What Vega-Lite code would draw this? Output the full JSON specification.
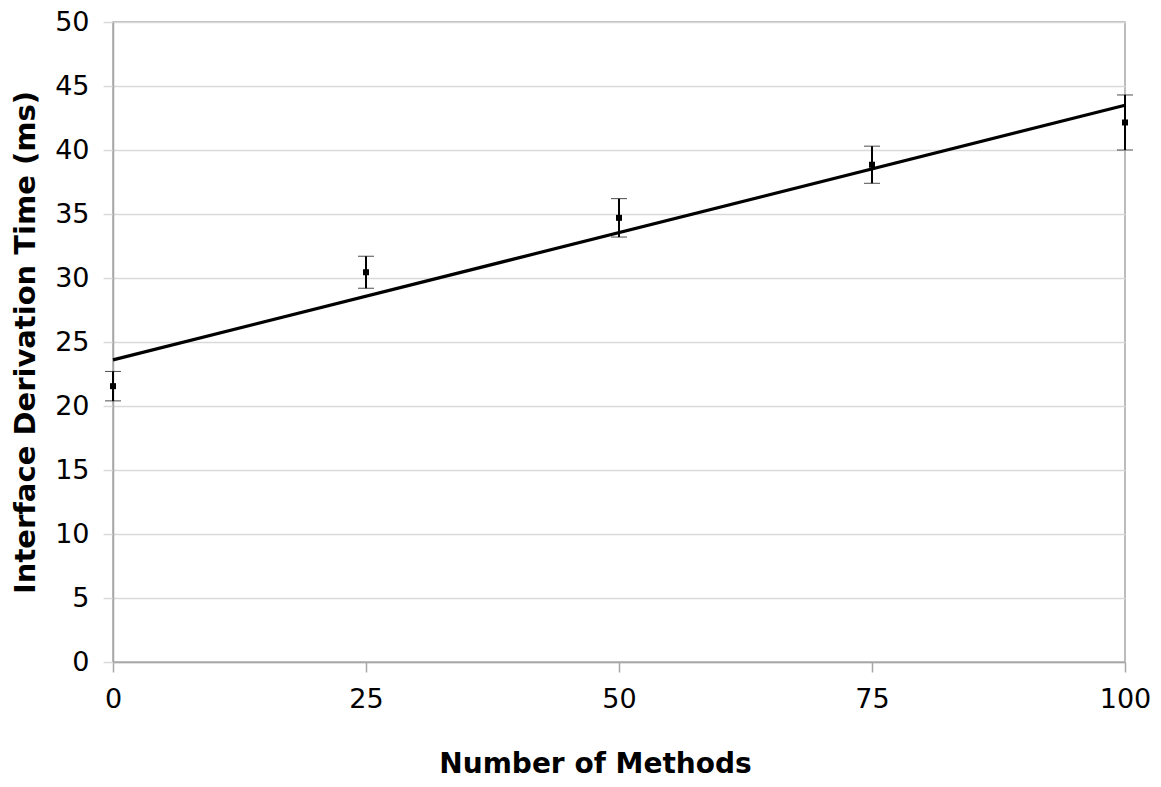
{
  "$schema": "https://vega.github.io/schema/vega-lite/v6.json",
  "width": 1012,
  "height": 640,
  "autosize": {"type": "none"},
  "padding": {"left": 113, "top": 22, "right": 35, "bottom": 125},
  "background": "white",
  "config": {
    "font": "DejaVu Sans",
    "view": {"stroke": "#a6a6a6", "strokeWidth": 1.5},
    "axis": {
      "titleFont": "DejaVu Sans", "titleFontSize": 28, "titleFontWeight": "bold",
      "titleColor": "black",
      "labelFontSize": 27, "labelColor": "black", "labelFont": "DejaVu Sans",
      "labelFlush": false, "labelOverlap": false,
      "domainColor": "#a6a6a6", "domainWidth": 1.5,
      "tickSize": 10, "tickWidth": 1.5
    },
    "axisX": {
      "grid": false, "tickColor": "#a6a6a6", "labelPadding": 14, "titlePadding": 38,
      "titleX": 482
    },
    "axisY": {
      "grid": true, "gridColor": "#d9d9d9", "gridWidth": 1.5,
      "tickColor": "#d9d9d9", "labelPadding": 14, "titlePadding": 14,
      "titleFontSize": 29
    }
  },
  "datasets": {
    "points": [
      {"methods": 0, "time": 21.55, "lo": 20.4, "hi": 22.7},
      {"methods": 25, "time": 30.45, "lo": 29.2, "hi": 31.7},
      {"methods": 50, "time": 34.7, "lo": 33.2, "hi": 36.2},
      {"methods": 75, "time": 38.85, "lo": 37.4, "hi": 40.3},
      {"methods": 100, "time": 42.15, "lo": 40.0, "hi": 44.3}
    ],
    "trend": [
      {"methods": 0, "time": 23.6},
      {"methods": 100, "time": 43.5}
    ]
  },
  "layer": [
    {
      "data": {"name": "trend"},
      "mark": {"type": "line", "color": "black", "strokeWidth": 3.2},
      "encoding": {
        "x": {
          "field": "methods", "type": "quantitative",
          "scale": {"domain": [0, 100], "nice": false},
          "title": "Number of Methods",
          "axis": {"values": [0, 25, 50, 75, 100]}
        },
        "y": {
          "field": "time", "type": "quantitative",
          "scale": {"domain": [0, 50], "nice": false},
          "title": "Interface Derivation Time (ms)",
          "axis": {"values": [0, 5, 10, 15, 20, 25, 30, 35, 40, 45, 50]}
        }
      }
    },
    {
      "data": {"name": "points"},
      "mark": {"type": "errorbar", "ticks": {"color": "black", "strokeWidth": 2, "size": 16}, "rule": {"color": "black", "strokeWidth": 2}},
      "encoding": {
        "x": {"field": "methods", "type": "quantitative", "title": "Number of Methods"},
        "y": {"field": "lo", "type": "quantitative", "title": "Interface Derivation Time (ms)"},
        "y2": {"field": "hi"}
      }
    },
    {
      "data": {"name": "points"},
      "mark": {"type": "square", "color": "black", "opacity": 1, "filled": true, "size": 36},
      "encoding": {
        "x": {"field": "methods", "type": "quantitative", "title": "Number of Methods"},
        "y": {"field": "time", "type": "quantitative", "title": "Interface Derivation Time (ms)"}
      }
    }
  ]
}
